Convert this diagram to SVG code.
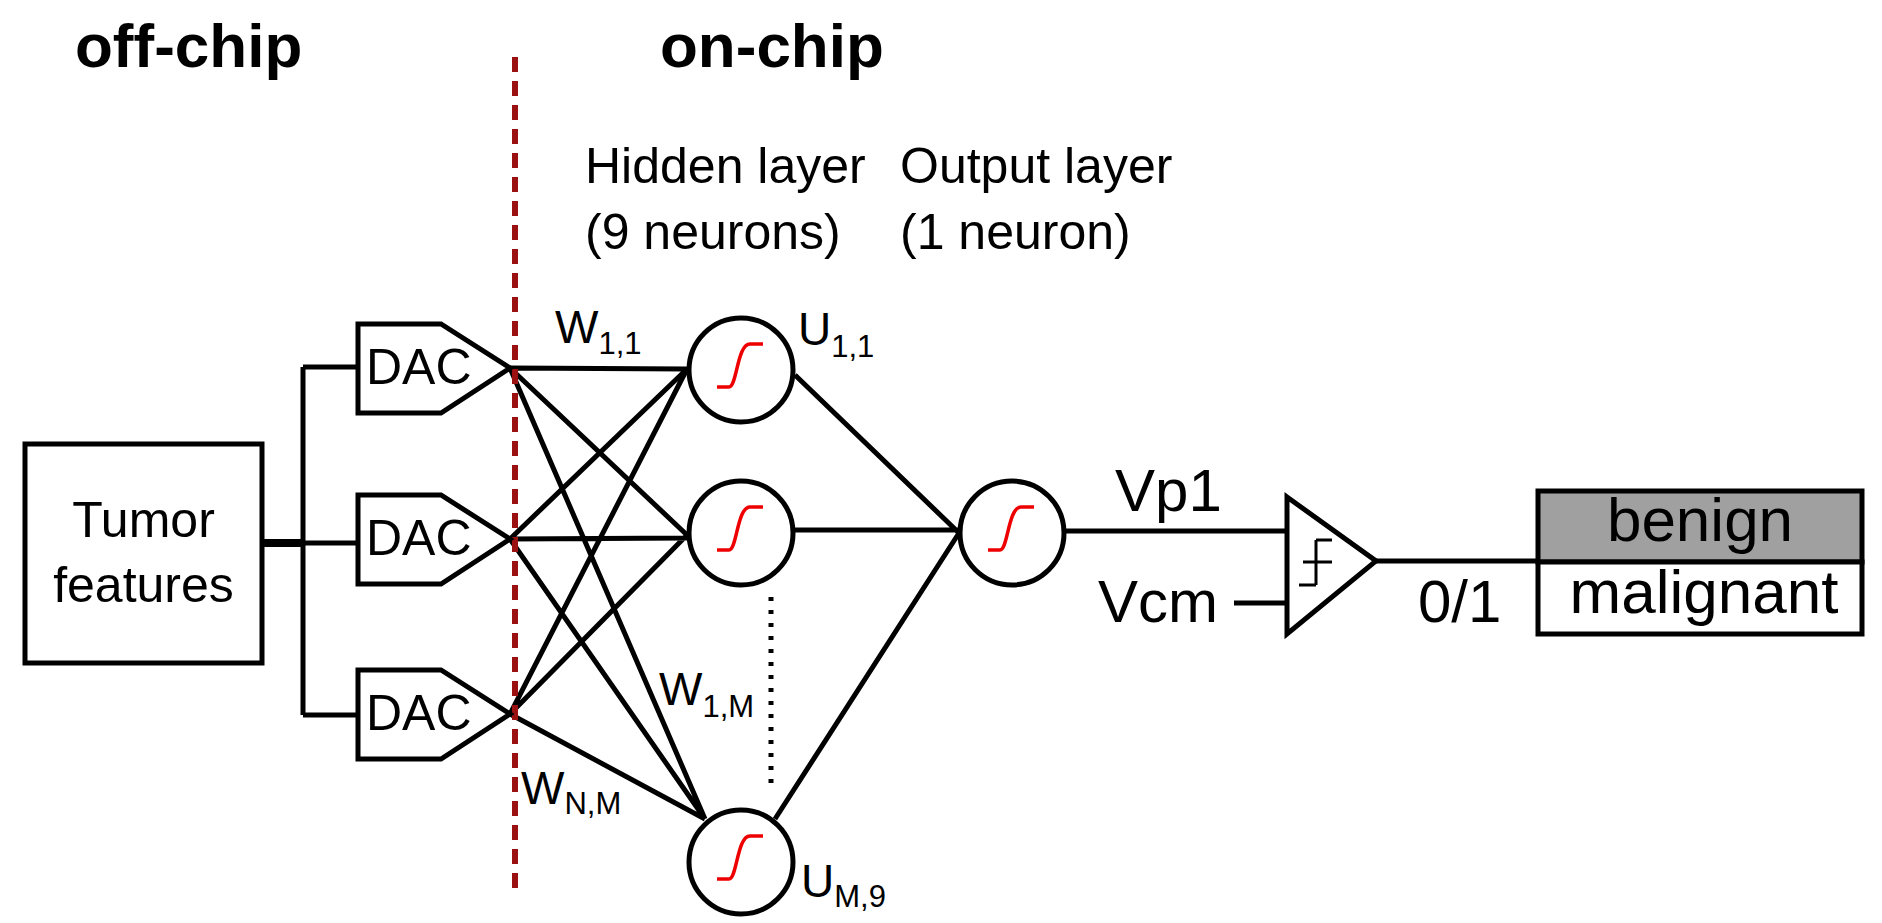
<svg xmlns="http://www.w3.org/2000/svg" width="1882" height="923" viewBox="0 0 1882 923">
<style>
text{font-family:"Liberation Sans",Arial,sans-serif;fill:#000}
.l{stroke:#000;stroke-width:5;fill:none}
.n{stroke:#000;stroke-width:5;fill:#fff}
.sig{stroke:#e00;stroke-width:3.5;fill:none}
.b{font-weight:bold;font-size:62px}
.m{font-size:50px}
.w{font-size:46px}
.s{font-size:31px}
.big{font-size:60px}
</style>
<defs>
<g id="neuron"><circle r="52" class="n"/><path class="sig" d="M-24 17 H-12 C-4 17 -4 -26 9 -26 H22"/></g>
<g id="dac"><path class="n" d="M0 0 H83 L152 44 L83 89 H0 Z"/><text x="8" y="60" style="font-size:50px">DAC</text></g>
</defs>
<text class="b" x="75" y="67">off-chip</text>
<text class="b" x="660" y="67">on-chip</text>
<text class="m" x="585" y="183">Hidden layer</text>
<text class="m" x="585" y="249">(9 neurons)</text>
<text class="m" x="900" y="183">Output layer</text>
<text class="m" x="900" y="249">(1 neuron)</text>
<g id="connectors">
<path class="l" d="M262 543 H358 M303 367 V715 M303 367 H358 M303 715 H358"/>
<path class="l" style="stroke-width:8" d="M262 543 H303"/>
<path class="l" d="M510 368 L687 369 M510 368 L687 535 M510 368 L705 819 M510 539 L687 369 M510 539 L687 538 M510 539 L705 819 M510 714 L687 369 M510 714 L687 535 M510 714 L705 819"/>
<path class="l" d="M795 375 L959 533 M793 530 H959 M775 819 L959 533"/>
<path class="l" style="stroke-dasharray:4 9" d="M771 597 V786"/>
<path class="l" d="M1065 531 H1287 M1234 603 H1287 M1376 561 H1538"/>
</g>
<line x1="515" y1="57" x2="515" y2="897" stroke="#9b1111" stroke-width="6" stroke-dasharray="15 9"/>
<g id="tumor"><rect x="25" y="444" width="237" height="219" class="n"/>
<text x="143.5" y="537" text-anchor="middle" style="font-size:50px">Tumor</text>
<text x="143.5" y="602" text-anchor="middle" style="font-size:50px">features</text></g>
<g id="dac1"><use href="#dac" x="358" y="324"/></g>
<g id="dac2"><use href="#dac" x="358" y="495"/></g>
<g id="dac3"><use href="#dac" x="358" y="670"/></g>
<g id="h1"><use href="#neuron" x="741" y="370"/></g>
<g id="h2"><use href="#neuron" x="741" y="533"/></g>
<g id="h9"><use href="#neuron" x="741" y="862"/></g>
<g id="out"><use href="#neuron" x="1012" y="533"/></g>
<text class="w" x="555" y="343">W<tspan class="s" dy="11">1,1</tspan></text>
<text class="w" x="798" y="345">U<tspan class="s" dy="12">1,1</tspan></text>
<text class="w" x="659" y="705">W<tspan class="s" dy="12">1,M</tspan></text>
<text class="w" x="521" y="804">W<tspan class="s" dy="10">N,M</tspan></text>
<text class="w" x="801" y="897">U<tspan class="s" dy="10">M,9</tspan></text>
<text class="big" x="1115" y="511">Vp1</text>
<text class="big" x="1098" y="622">Vcm</text>
<text class="big" x="1418" y="622">0/1</text>
<g id="comparator"><path class="n" d="M1287 497 L1376 561 L1287 634 Z"/>
<path stroke="#000" stroke-width="3" fill="none" d="M1316 540 H1332 M1303 562 H1332 M1299 585 H1316 M1316 540 V585"/></g>
<g id="result"><rect x="1538" y="491" width="324" height="71" fill="#a0a0a0" stroke="#000" stroke-width="5"/>
<rect x="1538" y="562" width="324" height="72" fill="#fff" stroke="#000" stroke-width="5"/>
<text class="big" x="1700" y="541" text-anchor="middle" style="font-size:62px">benign</text>
<text class="big" x="1704" y="613" text-anchor="middle" style="font-size:62px">malignant</text></g>
</svg>
